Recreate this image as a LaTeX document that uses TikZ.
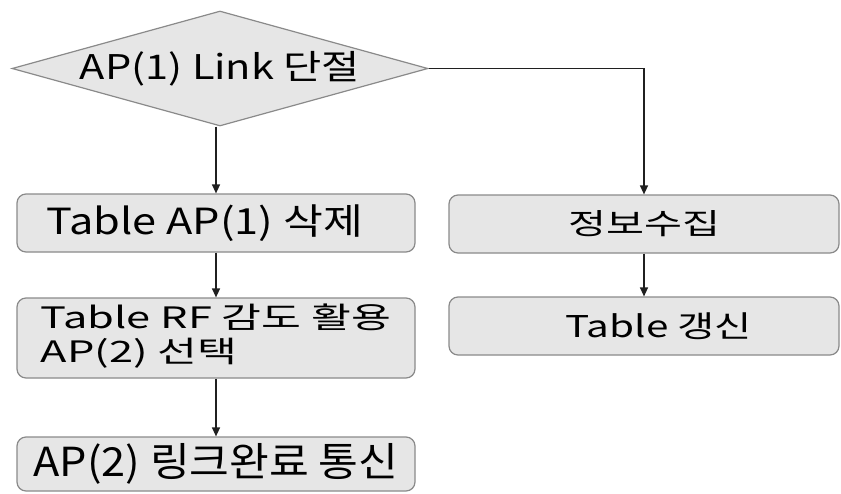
\documentclass[tikz,border=0pt]{standalone}
\usepackage{fontspec}
\usepackage{graphicx}
\setmainfont{Noto Sans CJK KR}
\usetikzlibrary{shapes.geometric,arrows.meta}
\definecolor{boxfill}{HTML}{E6E6E6}
\definecolor{boxline}{HTML}{8A8A8A}
\definecolor{linecol}{HTML}{202020}
\newcommand\fitw[3]{\resizebox{#1pt}{\height}{\fontsize{#2pt}{#2pt}\selectfont #3}}
\newcommand\fitwml[4]{\resizebox{#1pt}{\height}{\fontsize{#2pt}{#3pt}\selectfont\begin{tabular}{@{}l@{}}#4\end{tabular}}}
\begin{document}
\begin{tikzpicture}[x=1pt,y=-1pt,
  procbox/.style={draw=boxline,fill=boxfill,line width=1.2pt,rounded corners=9pt,inner sep=0pt},
  decision/.style={diamond,draw=boxline,fill=boxfill,line width=1.2pt,inner sep=0pt,shape aspect=3.6},
  arr/.style={draw=linecol,line width=1.3pt,-{Triangle[length=9pt,width=8pt]}}]
\useasboundingbox (0,0) rectangle (841,493);
\node[decision,minimum width=416pt,minimum height=115pt] (dia) at (220,68.5)
  {\raisebox{-3pt}{\fitw{280}{34}{AP(1) Link 단절}}};
\node[procbox,minimum width=398pt,minimum height=58pt] (b1) at (216,223)
  {\fitw{316}{36}{Table AP(1) 삭제}\hspace*{22pt}};
\node[procbox,minimum width=398pt,minimum height=80pt] (b2) at (216,338)
  {\fitwml{350}{29.5}{32}{Table RF 감도 활용\\AP(2) 선택}};
\node[procbox,minimum width=398pt,minimum height=54pt] (b3) at (216,464)
  {\fitw{365}{40}{AP(2) 링크완료 통신}};
\node[procbox,minimum width=390pt,minimum height=58pt] (r1) at (644,224)
  {\fitw{152}{29}{정보수집}};
\node[procbox,minimum width=390pt,minimum height=58pt] (r2) at (644,326)
  {\hspace*{30pt}\fitw{186}{30}{Table 갱신}};
\draw[arr] (b1.north |- dia.south) -- (b1.north);
\draw[arr] (b1.south) -- (b2.north);
\draw[arr] (b2.south) -- (b3.north);
\draw[arr] (dia.east) -| (r1.north);
\draw[arr] (r1.south) -- (r2.north);
\end{tikzpicture}
\end{document}
